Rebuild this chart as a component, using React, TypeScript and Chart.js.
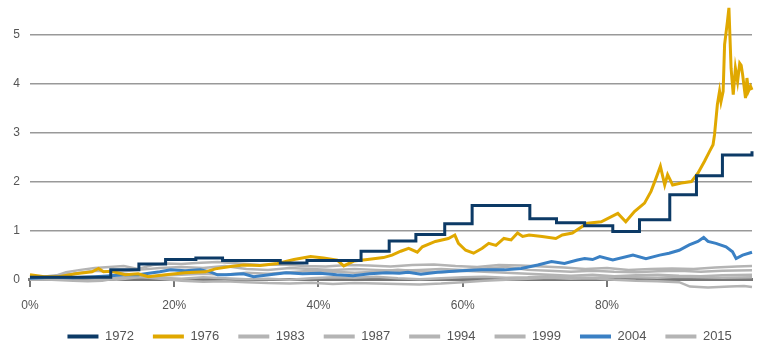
import React, { useEffect, useRef } from 'react';
import { Chart, registerables } from 'chart.js';
Chart.register(...registerables);

const SERIES_NAMES = ['1972', '1976', '1983', '1987', '1994', '1999', '2004', '2015'];
const X_TICKS = [0, 20, 40, 60, 80];
const Y_TICKS = [0, 1, 2, 3, 4, 5];

const S1972: number[][] = [
  [0, 0.05], [11.2, 0.2], [15.1, 0.32], [18.8, 0.41], [23.0, 0.44], [26.7, 0.39], [34.7, 0.34],
  [38.4, 0.39], [45.9, 0.58], [49.8, 0.79], [53.5, 0.92], [57.5, 1.14], [61.3, 1.51], [69.3, 1.24],
  [73.0, 1.16], [76.9, 1.1], [80.8, 0.98], [84.5, 1.22], [88.7, 1.73], [92.4, 2.12], [96.0, 2.54],
  [99.8, 2.54], [100.1, 2.62],
];

const S1976: number[][] = [
  [0, 0.1], [2, 0.06], [4, 0.06], [6.3, 0.12], [8.6, 0.16], [9.5, 0.23], [10.2, 0.16], [11.3, 0.17],
  [13.2, 0.1], [15, 0.12], [16.4, 0.06], [18.8, 0.1], [21.5, 0.14], [24.3, 0.16], [25.7, 0.22],
  [27.8, 0.27], [29.6, 0.3], [31.9, 0.29], [34.3, 0.33], [36.6, 0.41], [38.9, 0.47], [40.7, 0.44],
  [42.6, 0.4], [43.5, 0.28], [44.9, 0.38], [46.8, 0.41], [49, 0.45], [50.2, 0.5], [51.4, 0.58],
  [52.5, 0.64], [53.7, 0.56], [54.4, 0.67], [56.2, 0.78], [58, 0.84], [58.9, 0.91], [59.4, 0.74],
  [60.4, 0.6], [61.5, 0.54], [62.7, 0.64], [63.6, 0.74], [64.6, 0.7], [65.7, 0.84], [66.7, 0.81],
  [67.6, 0.95], [68.3, 0.88], [69.2, 0.91], [71, 0.88], [72.9, 0.84], [73.8, 0.91], [75.2, 0.95],
  [76.4, 1.07], [77.3, 1.15], [79.2, 1.18], [81.5, 1.35], [82.6, 1.18], [83.8, 1.39], [85.2, 1.56],
  [86.1, 1.8], [86.8, 2.07], [87.4, 2.31], [88, 1.93], [88.4, 2.14], [89.1, 1.93], [90.3, 1.97],
  [91.7, 2.0], [92.6, 2.17], [93.5, 2.41], [94.2, 2.61], [94.7, 2.75], [94.9, 2.95], [95.3, 3.57],
  [95.6, 3.84], [95.8, 3.63], [96.1, 3.84], [96.3, 4.79], [96.7, 5.27], [96.9, 5.54], [97.1, 4.72],
  [97.2, 4.31], [97.5, 3.77], [97.8, 4.31], [98.1, 4.04], [98.4, 4.41], [98.6, 4.37], [98.8, 4.18],
  [99.2, 3.7], [99.4, 4.11], [99.6, 3.84], [99.9, 3.94], [100.1, 3.87],
];

const S1983: number[][] = [
  [0, 0], [3, 0.05], [5, 0.15], [7, 0.2], [9, 0.24], [11, 0.26], [13, 0.28], [15, 0.22], [17, 0.3],
  [19, 0.33], [21, 0.32], [23, 0.34], [26, 0.36], [29, 0.33], [32, 0.3], [35, 0.31], [38, 0.28],
  [41, 0.27], [44, 0.3], [47, 0.29], [50, 0.27], [53, 0.3], [56, 0.31], [59, 0.28], [62, 0.26],
  [65, 0.3], [68, 0.29], [71, 0.27], [74, 0.25], [77, 0.22], [80, 0.24], [83, 0.2], [86, 0.22],
  [89, 0.23], [92, 0.22], [95, 0.25], [98, 0.27], [100.1, 0.28],
];

const S1987: number[][] = [
  [0, 0.02], [3, 0.0], [6, -0.02], [8, -0.03], [10, -0.02], [12, 0.03], [15, 0.06], [18, 0.02],
  [21, -0.02], [24, -0.04], [27, -0.03], [30, -0.05], [33, -0.07], [36, -0.08], [39, -0.06],
  [42, -0.09], [45, -0.07], [48, -0.08], [51, -0.09], [54, -0.1], [57, -0.08], [60, -0.05],
  [63, -0.02], [66, 0.0], [69, 0.02], [72, 0.04], [75, 0.02], [78, 0.03], [81, 0.0], [84, -0.02],
  [87, -0.03], [90, -0.05], [91.5, -0.14], [94, -0.16], [97, -0.14], [99, -0.13], [100.1, -0.15],
];

const S1994: number[][] = [
  [0, 0.03], [3, 0.08], [6, 0.12], [9, 0.18], [12, 0.15], [15, 0.2], [18, 0.24], [21, 0.26],
  [24, 0.24], [27, 0.28], [30, 0.22], [33, 0.2], [36, 0.24], [39, 0.22], [42, 0.2], [45, 0.22],
  [48, 0.2], [51, 0.18], [54, 0.2], [57, 0.22], [60, 0.2], [63, 0.23], [66, 0.26], [69, 0.2],
  [72, 0.18], [75, 0.16], [78, 0.18], [81, 0.16], [84, 0.15], [87, 0.17], [90, 0.18], [93, 0.16],
  [96, 0.18], [100.1, 0.19],
];

const S1999: number[][] = [
  [0, 0], [3, 0.02], [6, 0.04], [9, 0.02], [12, 0.0], [15, 0.05], [18, 0.08], [21, 0.1], [24, 0.12],
  [27, 0.1], [30, 0.14], [33, 0.12], [36, 0.15], [39, 0.18], [42, 0.16], [45, 0.14], [48, 0.16],
  [51, 0.2], [54, 0.17], [57, 0.15], [60, 0.18], [63, 0.16], [66, 0.14], [69, 0.12], [72, 0.1],
  [75, 0.08], [78, 0.1], [81, 0.07], [84, 0.09], [87, 0.1], [90, 0.08], [93, 0.07], [96, 0.09],
  [100.1, 0.1],
];

const S2004: number[][] = [
  [0, 0.03], [3, 0.05], [6, 0.04], [9, 0.06], [11.2, 0.08], [13, 0.1], [15, 0.1], [16, 0.12],
  [18, 0.16], [19.5, 0.2], [21.5, 0.18], [23.6, 0.2], [25, 0.16], [26, 0.1], [27.2, 0.1],
  [29.6, 0.12], [31, 0.06], [33.2, 0.1], [35.5, 0.14], [37.8, 0.12], [40.2, 0.13], [42.5, 0.1],
  [44.8, 0.08], [47.1, 0.12], [49.4, 0.14], [51.2, 0.13], [52.4, 0.15], [54.2, 0.11], [56.5, 0.15],
  [59.8, 0.18], [62.6, 0.2], [65.8, 0.2], [68.1, 0.23], [70.4, 0.3], [72.3, 0.37], [74.1, 0.33],
  [75.9, 0.4], [76.9, 0.43], [78, 0.41], [79, 0.47], [80.8, 0.4], [83.6, 0.5], [85.4, 0.43],
  [87.3, 0.5], [88.6, 0.54], [90, 0.6], [91.4, 0.71], [92.6, 0.78], [93.4, 0.86], [94, 0.78],
  [95.1, 0.74], [96.5, 0.67], [97.4, 0.57], [97.9, 0.43], [98.8, 0.5], [100.1, 0.56],
];

const S2015: number[][] = [
  [0, 0], [3, 0.01], [6, 0.03], [9, 0.05], [12, 0.04], [15, 0.06], [18, 0.04], [21, 0.02], [24, 0.05],
  [27, 0.03], [30, 0.01], [33, 0.02], [36, 0.0], [39, 0.03], [42, 0.05], [45, 0.04], [48, 0.06],
  [51, 0.03], [54, 0.01], [57, 0.03], [60, 0.05], [63, 0.06], [66, 0.04], [69, 0.05], [72, 0.07],
  [75, 0.05], [78, 0.04], [81, 0.06], [84, 0.05], [87, 0.04], [90, 0.06], [93, 0.05], [96, 0.04],
  [100.1, 0.05],
];

const SERIES_DATA = [S1972, S1976, S1983, S1987, S1994, S1999, S2004, S2015];
const COLORS = ['#0c3a66', '#e0a800', '#b4b4b4', '#b4b4b4', '#b4b4b4', '#b4b4b4', '#3a80c4', '#b4b4b4'];
const WIDTHS = [3, 3, 2.5, 2.5, 2.5, 2.5, 3, 2.5];
const ORDERS = [0, 1, 3, 4, 5, 6, 2, 7];

const FONT = 'Liberation Sans, Arial, sans-serif';

const legendShift = {
  id: 'legendShift',
  afterLayout(chart: any) {
    const l = chart.legend;
    if (!l) return;
    l.left += 22;
    l.right += 22;
    l.top += 3;
    l.bottom += 3;
  },
};

export default function App() {
  const ref = useRef<HTMLCanvasElement>(null);
  useEffect(() => {
    if (!ref.current) return;
    const chart = new Chart(ref.current, {
      type: 'line',
      plugins: [legendShift],
      data: {
        datasets: SERIES_NAMES.map((name, i) => ({
          label: name,
          data: SERIES_DATA[i].map(([x, y]) => ({ x, y })),
          borderColor: COLORS[i],
          backgroundColor: COLORS[i],
          borderWidth: WIDTHS[i],
          pointRadius: 0,
          tension: 0,
          stepped: i === 0 ? 'before' : false,
          order: ORDERS[i],
          clip: 4,
        })) as any,
      },
      options: {
        animation: false,
        responsive: true,
        maintainAspectRatio: false,
        layout: { padding: { left: 3.3, right: 18, top: 0, bottom: 0 } },
        plugins: {
          tooltip: { enabled: false },
          legend: {
            position: 'bottom',
            labels: {
              font: { family: FONT, size: 13 },
              color: '#555',
              boxWidth: 31,
              boxHeight: 4,
              padding: 19,
              sort: (a: any, b: any) => a.datasetIndex - b.datasetIndex,
              generateLabels: (c: any) =>
                Chart.defaults.plugins.legend.labels.generateLabels(c).map((l: any) => ({
                  ...l,
                  lineWidth: 0,
                  fillStyle: COLORS[l.datasetIndex],
                })),
            },
          },
        },
        scales: {
          x: {
            type: 'linear',
            min: 0,
            max: 100.1,
            position: { y: 0 } as any,
            afterBuildTicks: (axis: any) => {
              axis.ticks = X_TICKS.map((v) => ({ value: v }));
            },
            ticks: {
              font: { family: FONT, size: 12 },
              color: '#555',
              padding: 12.5,
              callback: (v: any) => v + '%',
            },
            grid: {
              drawOnChartArea: false,
              drawTicks: true,
              tickLength: 6,
              color: '#777',
              lineWidth: 2,
            },
            border: { display: true, color: '#777', width: 3 },
          },
          y: {
            type: 'linear',
            min: -0.577,
            max: 5.7,
            afterBuildTicks: (axis: any) => {
              axis.ticks = Y_TICKS.map((v) => ({ value: v }));
            },
            afterFit: (axis: any) => {
              axis.paddingTop = 0;
              axis.paddingBottom = 0;
            },
            ticks: {
              font: { family: FONT, size: 12 },
              color: '#555',
              padding: 10,
            },
            grid: {
              drawTicks: false,
              color: (ctx: any) => (ctx.tick && ctx.tick.value === 0 ? 'rgba(0,0,0,0)' : '#999'),
              lineWidth: 1.5,
            },
            border: { display: false },
          },
        },
      },
    });
    return () => chart.destroy();
  }, []);
  return (
    <div style={{ position: 'absolute', left: 0, top: 0, width: 770, height: 350 }}>
      <canvas ref={ref} />
    </div>
  );
}
